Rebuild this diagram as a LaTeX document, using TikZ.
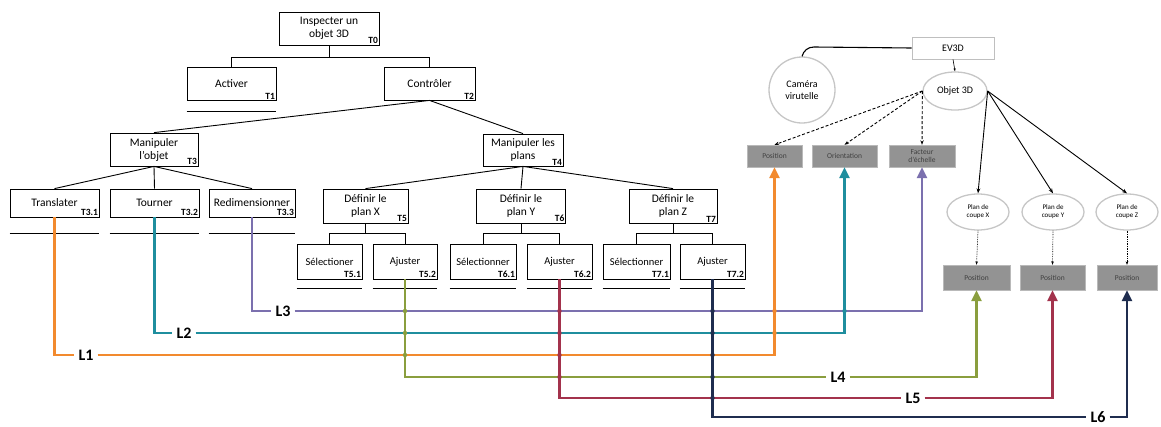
\documentclass[tikz,border=0pt]{standalone}
\usepackage{fontspec}
\setmainfont{Carlito}
\usetikzlibrary{arrows.meta,shapes.geometric}
\definecolor{cOr}{HTML}{F28A2E}
\definecolor{cTe}{HTML}{1F8E9E}
\definecolor{cPu}{HTML}{7B70AE}
\definecolor{cOl}{HTML}{8A9E3E}
\definecolor{cRe}{HTML}{A3324C}
\definecolor{cNa}{HTML}{1F2D4F}
\definecolor{gbox}{HTML}{939393}
\tikzset{
  tbox/.style={draw, line width=0.8pt, inner sep=0pt, align=center, font=\fontsize{11.5}{13}\selectfont},
  sbox/.style={tbox, font=\fontsize{10.5}{12}\selectfont},
  tag/.style={anchor=south east, inner sep=1.2pt, font=\bfseries\fontsize{9.5}{9.5}\selectfont},
  uline/.style={line width=1.2pt},
  tree/.style={line width=0.9pt},
  gray box/.style={draw=gray!55, fill=gbox, inner sep=0pt, align=center, font=\fontsize{7.5}{8}\selectfont, text=black!75},
  soft/.style={draw=gray!45, line width=1.3pt, fill=white, inner sep=0pt, align=center},
  lab/.style={font=\bfseries\fontsize{16}{16}\selectfont, inner sep=4pt},
  cl/.style={line width=2.4pt},
  cla/.style={line width=2.4pt, -{Triangle[length=11pt,width=10pt]}},
  dotc/.style={radius=2.2pt},
}
\begin{document}
\begin{tikzpicture}[x=1pt,y=-1pt]
\useasboundingbox (0,0) rectangle (1161,426);
% ---------- tree ----------
\node[tbox, minimum width=100pt, minimum height=33pt] (T0) at (329,28.5) {Inspecter un\\objet 3D};
\node[tbox, minimum width=89pt, minimum height=33pt] (T1) at (231.5,83.5) {Activer};
\node[tbox, minimum width=91pt, minimum height=33pt] (T2) at (429.5,83.5) {Contrôler};
\node[tbox, minimum width=88pt, minimum height=33pt] (T3) at (154,149.5) {Manipuler\\l'objet};
\node[tbox, minimum width=80pt, minimum height=32pt] (T4) at (523,150) {Manipuler les\\plans};
\node[tbox, minimum width=89pt, minimum height=28pt] (T31) at (54.5,203) {Translater};
\node[tbox, minimum width=89pt, minimum height=28pt] (T32) at (154.5,203) {Tourner};
\node[tbox, minimum width=86pt, minimum height=28pt] (T33) at (252,203) {Redimensionner};
\node[tbox, minimum width=85pt, minimum height=34pt] (T5) at (365.5,206) {Définir le\\plan X};
\node[tbox, minimum width=89pt, minimum height=34pt] (T6) at (521,206) {Définir le\\plan Y};
\node[tbox, minimum width=88pt, minimum height=34pt] (T7) at (673,206) {Définir le\\plan Z};
\node[sbox, minimum width=65pt, minimum height=35pt] (T51) at (329.5,261.5) {Sélectioner};
\node[sbox, minimum width=64pt, minimum height=35pt] (T52) at (405,261.5) {Ajuster};
\node[sbox, minimum width=66pt, minimum height=35pt] (T61) at (483,261.5) {Sélectionner};
\node[sbox, minimum width=65pt, minimum height=35pt] (T62) at (559.5,261.5) {Ajuster};
\node[sbox, minimum width=67pt, minimum height=35pt] (T71) at (636.5,261.5) {Sélectionner};
\node[sbox, minimum width=65pt, minimum height=35pt] (T72) at (712.5,261.5) {Ajuster};
% tags
\foreach \n/\t in {T0/T0,T1/T1,T2/T2,T3/T3,T4/T4,T31/T3.1,T32/T3.2,T33/T3.3,T5/T5,T6/T6,T7/T7,T51/T5.1,T52/T5.2,T61/T6.1,T62/T6.2,T71/T7.1,T72/T7.2}
  \node[tag] at (\n.south east) {\t};
% underlines
\foreach \n in {T1} \draw[uline] ([yshift=-11pt]\n.south west) -- ([yshift=-11pt]\n.south east);
\foreach \n in {T31,T32,T33} \draw[uline] ([yshift=-16pt]\n.south west) -- ([yshift=-16pt]\n.south east);
\foreach \n in {T51,T52,T61,T62,T71,T72} \draw[uline] ([yshift=-9pt]\n.south west) -- ([yshift=-9pt]\n.south east);
% tree connectors
\draw[tree] (T0.south) -- ++(0,12) -| (T1.north);
\draw[tree] (T0.south) -- ++(0,12) -| (T2.north);
\draw[tree] (T2.south) -- (T3.north);
\draw[tree] (T2.south) -- (T4.north);
\draw[tree] (T3.south) -- (T31.north);
\draw[tree] (T3.south) -- (T32.north);
\draw[tree] (T3.south) -- (T33.north);
\draw[tree] (T4.south) -- (T5.north);
\draw[tree] (T4.south) -- (T6.north);
\draw[tree] (T4.south) -- (T7.north);
\foreach \p/\a/\b in {T5/T51/T52,T6/T61/T62,T7/T71/T72}{
  \draw[tree] (\p.south) -- ++(0,10) -| (\a.north);
  \draw[tree] (\p.south) -- ++(0,10) -| (\b.north);
}
% ---------- right side ----------
\node[draw=gray!50, line width=0.8pt, minimum width=82pt, minimum height=22pt, inner sep=0pt, font=\fontsize{10}{11}\selectfont] (EV) at (953,48) {EV3D};
\node[soft, circle, minimum size=66pt, font=\fontsize{10}{12}\selectfont] (cam) at (802,90) {Caméra\\virutelle};
\node[soft, ellipse, minimum width=64pt, minimum height=38pt, font=\fontsize{10}{11}\selectfont] (obj) at (955,91) {Objet 3D};
\node[gray box, minimum width=55pt, minimum height=22pt] (P1) at (774.5,156) {Position};
\node[gray box, minimum width=65pt, minimum height=22pt] (OR) at (844.5,156) {Orientation};
\node[gray box, minimum width=66pt, minimum height=22pt] (FE) at (922,156) {Facteur\\d'échelle};
\node[soft, ellipse, minimum width=62pt, minimum height=36pt, font=\fontsize{7}{8}\selectfont] (PX) at (978,212) {Plan de\\coupe X};
\node[soft, ellipse, minimum width=62pt, minimum height=36pt, font=\fontsize{7}{8}\selectfont] (PY) at (1053,212) {Plan de\\coupe Y};
\node[soft, ellipse, minimum width=62pt, minimum height=36pt, font=\fontsize{7}{8}\selectfont] (PZ) at (1127,212) {Plan de\\coupe Z};
\node[gray box, minimum width=67pt, minimum height=25pt] (RX) at (976.5,277.5) {Position};
\node[gray box, minimum width=65pt, minimum height=25pt] (RY) at (1052.5,277.5) {Position};
\node[gray box, minimum width=60pt, minimum height=25pt] (RZ) at (1127,277.5) {Position};
\coordinate (c1) at (814,47);
\draw[line width=1.1pt] (EV.west) -- (c1) to[out=180,in=75] (cam.north);
\draw[line width=0.6pt, -{Stealth[length=3pt]}] (EV.south) -- (obj.north);
\foreach \t in {P1,OR,FE}
  \draw[densely dashed, line width=0.9pt, -{Stealth[length=4.5pt]}] (obj.west) -- (\t.north);
\foreach \t in {PX,PY,PZ}
  \draw[line width=0.9pt, -{Stealth[length=5pt]}] (obj.east) -- (\t.north);
\foreach \e/\t in {PX/RX,PY/RY,PZ/RZ}
  \draw[densely dotted, line width=0.7pt, -{Stealth[length=3.5pt]}] (\e.south) -- (\t.north);
% ---------- colored lines ----------
\node[lab] (L1) at (86,355) {L1};
\node[lab] (L2) at (184,333) {L2};
\node[lab] (L3) at (283,311) {L3};
\node[lab] (L4) at (838,377) {L4};
\node[lab] (L5) at (913,398) {L5};
\node[lab] (L6) at (1098,417) {L6};
\draw[cl, cPu] (T33.south) |- (L3.west);
\draw[cla, cPu] (L3.east) -| (FE.south);
\draw[cl, cTe] (T32.south) |- (L2.west);
\draw[cla, cTe] (L2.east) -| (OR.south);
\draw[cl, cOr] (T31.south) |- (L1.west);
\draw[cla, cOr] (L1.east) -| (P1.south);
\draw[cl, cOl] (T52.south) |- (L4.west);
\draw[cla, cOl] (L4.east) -| (RX.south);
\draw[cl, cRe] (T62.south) |- (L5.west);
\draw[cla, cRe] (L5.east) -| (RY.south);
\draw[cl, cNa] (T72.south) |- (L6.west);
\draw[cla, cNa] (L6.east) -| (RZ.south);
% crossing dots
\foreach \l in {L3,L2,L1} \fill[cOl] (T52.south |- \l.east) circle[dotc];
\foreach \l in {L3,L2,L1,L4} \fill[cRe] (T62.south |- \l.east) circle[dotc];
\foreach \l in {L3,L2,L1,L4,L5} \fill[cNa] (T72.south |- \l.east) circle[dotc];
\foreach \l in {L3,L2} \fill[cOr] (P1.south |- \l.east) circle[dotc];
\fill[cTe] (OR.south |- L3.east) circle[dotc];
\end{tikzpicture}
\end{document}
